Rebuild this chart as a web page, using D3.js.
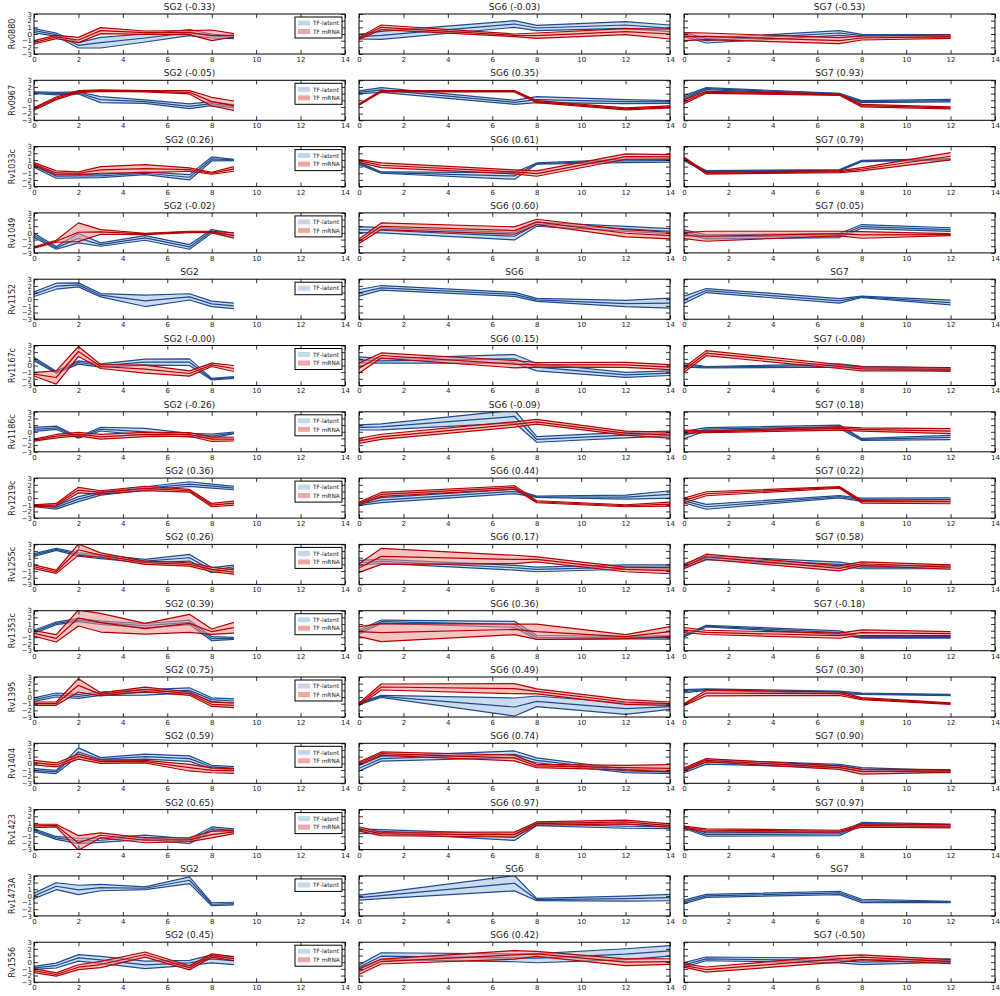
<!DOCTYPE html>
<html lang="en">
<head>
<meta charset="UTF-8" />
<title>TF-latent vs TF mRNA</title>
<script src="https://d3js.org/d3.v7.min.js"></script>
<style>
  body { margin: 0; background: #fff; font-family: "DejaVu Sans", sans-serif; }
  text { font-family: "DejaVu Sans", sans-serif; fill: #222; }
</style>
</head>
<body>
<div id="chart"></div>
<script>
// genes (rows) and time points for each condition (columns)
const genes = ["Rv0880", "Rv0967", "Rv1033c", "Rv1049", "Rv1152", "Rv1167c", "Rv1186c", "Rv1219c",
  "Rv1255c", "Rv1353c", "Rv1395", "Rv1404", "Rv1423", "Rv1473A", "Rv1556"];
const timesSG2 = [0, 1, 2, 3, 5, 7, 8, 9];
const timesSG6 = [0, 1, 7, 8, 12, 14];
const timesSG7 = [0, 1, 7, 8, 12];

// correlation shown in the title, null = no mRNA profile
const corrSG2 = ["-0.33", "-0.05", "0.26", "-0.02", null, "-0.00", "-0.26", "0.36", "0.26", "0.39", "0.75", "0.59", "0.65", null, "0.45"];
const corrSG6 = ["-0.03", "0.35", "0.61", "0.60", null, "0.15", "-0.09", "0.44", "0.17", "0.36", "0.49", "0.74", "0.97", null, "0.42"];
const corrSG7 = ["-0.53", "0.93", "0.79", "0.05", null, "-0.08", "0.18", "0.22", "0.58", "-0.18", "0.30", "0.90", "0.97", null, "-0.50"];

// SG2: mean and std of TF-latent and TF mRNA
const latMeanSG2 = [
  [0.5, -0.1, -1.7, -1.3, -0.6, 0.2, -0.3, -0.5],
  [1.15, 1.0, 1.1, 0.1, -0.2, -0.9, -0.5, -0.9],
  [0.1, -1.45, -1.4, -1.4, -1.0, -1.6, 1.15, 1.0],
  [-0.35, -2.25, -0.8, -1.75, -0.75, -2.1, 0.25, -0.35],
  [0.75, 1.95, 2.15, 0.6, -0.25, 0.35, -0.7, -1.0],
  [0.95, -1.0, 0.45, 0.0, 0.5, 0.5, -2.05, -1.8],
  [0.35, 0.6, -0.85, 0.4, 0.0, -0.5, -0.65, -0.15],
  [-1.15, -1.4, -0.15, 0.7, 1.45, 2.1, 1.8, 1.5],
  [1.4, 2.25, 1.5, 1.15, 0.5, 1.0, -0.85, -0.35],
  [-0.15, 1.1, 1.6, 1.2, 0.75, 1.25, -1.2, -1.15],
  [-0.4, 0.3, 0.1, 0.5, 0.7, 1.0, -0.4, -0.6],
  [-1.05, -1.3, 1.7, 0.6, 1.0, 0.7, -0.55, -0.75],
  [-0.1, -1.25, -1.7, -1.6, -1.15, -1.75, 0.1, -0.1],
  [0.0, 1.45, 0.9, 1.25, 1.15, 2.35, -1.25, -1.15],
  [-0.85, -0.5, 0.65, 0.35, -0.4, -0.1, 0.5, 0.2]
];
const latSdSG2 = [
  [0.3, 0.25, 0.4, 0.8, 0.6, 0.45, 0.3, 0.2],
  [0.1, 0.2, 0.15, 0.45, 0.25, 0.35, 0.3, 0.2],
  [0.2, 0.3, 0.3, 0.25, 0.2, 0.4, 0.3, 0.1],
  [0.3, 0.2, 0.7, 0.25, 0.35, 0.35, 0.25, 0.3],
  [0.35, 0.45, 0.3, 0.25, 0.85, 0.47, 0.42, 0.4],
  [0.25, 0.15, 0.25, 0.25, 0.45, 0.5, 0.12, 0.12],
  [0.3, 0.25, 0.1, 0.28, 0.5, 0.25, 0.3, 0.12],
  [0.12, 0.25, 0.37, 0.25, 0.25, 0.35, 0.3, 0.25],
  [0.22, 0.15, 0.25, 0.28, 0.25, 0.5, 0.38, 0.25],
  [0.25, 0.2, 0.25, 0.25, 0.33, 0.33, 0.3, 0.15],
  [0.27, 0.3, 0.3, 0.25, 0.42, 0.38, 0.28, 0.32],
  [0.25, 0.25, 0.62, 0.25, 0.37, 0.42, 0.25, 0.25],
  [0.22, 0.22, 0.4, 0.32, 0.32, 0.37, 0.3, 0.22],
  [0.42, 0.52, 0.7, 0.48, 0.2, 0.5, 0.22, 0.2],
  [0.22, 0.37, 0.48, 0.52, 0.55, 0.37, 0.6, 0.55]
];
const mrnaMeanSG2 = [
  [-1.25, -0.45, -0.9, 0.5, 0.2, 0.2, -0.2, -0.2],
  [-1.3, 0.3, 1.3, 1.45, 1.35, 1.2, -0.2, -0.8],
  [0.4, -0.95, -1.0, -0.5, -0.3, -0.45, -1.0, -0.35],
  [-2.2, -1.25, 0.1, 0.15, -0.15, 0.15, 0.15, -0.4],
  null,
  [-1.3, -1.8, 2.1, -0.15, -0.55, -1.2, 0.1, -0.45],
  [-1.25, -0.65, -0.35, -0.75, -0.4, -0.4, -1.1, -1.1],
  [-1.15, -1.0, 1.2, 0.85, 1.45, 1.1, -1.05, -0.75],
  [-0.35, -1.1, 2.2, 1.4, 0.25, 0.0, -0.75, -1.15],
  [-0.4, -1.15, 1.9, 1.2, 0.3, 1.1, -0.15, 0.45],
  [-1.0, -1.0, 1.75, 0.4, 1.15, 0.5, -1.1, -1.25],
  [0.1, -0.25, 1.0, 0.25, 0.25, -0.65, -1.05, -1.15],
  [0.55, 0.6, -2.0, -0.85, -1.6, -1.5, -0.75, -0.35],
  null,
  [-1.25, -1.85, -0.75, -0.35, 1.15, -0.85, 1.0, 0.55]
];
const mrnaSdSG2 = [
  [0.25, 0.25, 0.4, 0.45, 0.25, 0.3, 0.8, 0.25],
  [0.2, 0.2, 0.15, 0.1, 0.1, 0.25, 0.65, 0.7],
  [0.2, 0.3, 0.2, 0.5, 0.6, 0.25, 0.15, 0.35],
  [0.1, 0.15, 1.4, 0.35, 0.1, 0.1, 0.1, 0.4],
  null,
  [0.27, 1.0, 0.75, 0.3, 0.6, 0.4, 0.25, 0.45],
  [0.15, 0.25, 0.25, 0.35, 0.33, 0.27, 0.35, 0.28],
  [0.12, 0.2, 0.42, 0.25, 0.33, 0.2, 0.25, 0.3],
  [0.28, 0.25, 0.85, 0.33, 0.25, 0.25, 0.35, 0.32],
  [0.4, 0.55, 1.2, 1.4, 0.8, 1.35, 0.4, 0.8],
  [0.25, 0.25, 1.0, 0.22, 0.33, 0.25, 0.32, 0.35],
  [0.35, 0.3, 0.37, 0.25, 0.2, 0.5, 0.37, 0.35],
  [0.25, 0.2, 1.1, 0.37, 0.37, 0.3, 0.5, 0.25],
  null,
  [0.3, 0.25, 0.37, 0.47, 0.38, 0.3, 0.25, 0.3]
];

// SG6
const latMeanSG6 = [
  [-0.4, -0.2, 1.5, 0.9, 1.35, 0.85],
  [1.2, 1.55, -0.3, 0.1, -0.2, -0.25],
  [0.5, -0.9, -1.4, 0.45, 0.85, 0.9],
  [0.5, 0.4, -0.5, 1.3, 0.6, 0.25],
  [0.95, 1.7, 0.72, -0.1, -0.65, -0.6],
  [0.85, 0.7, 1.0, -0.25, -1.4, -1.15],
  [0.65, 0.75, 2.3, -1.15, -0.5, -0.25],
  [-0.9, -0.3, 1.0, 0.2, 0.15, 0.55],
  [0.25, 0.45, -0.5, -0.75, -0.4, -0.4],
  [-0.2, 1.35, 0.95, -1.0, -1.05, -1.0],
  [-1.0, 0.1, -1.5, -0.65, -1.75, -1.45],
  [-0.75, 0.7, 1.35, 0.45, -1.15, -1.3],
  [-0.25, -0.25, -1.15, 0.85, 0.5, 0.4],
  [-0.25, 0.05, 1.9, -0.55, -0.4, -0.25],
  [-0.75, 0.9, 0.65, 0.6, 1.2, 1.7]
];
const latSdSG6 = [
  [0.35, 0.6, 0.5, 0.4, 0.5, 0.5],
  [0.2, 0.35, 0.3, 0.45, 0.3, 0.2],
  [0.2, 0.1, 0.5, 0.1, 0.25, 0.25],
  [0.45, 0.4, 0.55, 0.3, 0.38, 0.38],
  [0.5, 0.35, 0.3, 0.22, 0.47, 0.75],
  [0.45, 0.33, 0.65, 0.55, 0.37, 0.35],
  [0.38, 0.45, 0.95, 0.42, 0.4, 0.37],
  [0.2, 0.37, 0.33, 0.1, 0.3, 0.55],
  [0.35, 0.3, 0.35, 0.35, 0.33, 0.33],
  [0.3, 0.25, 0.45, 0.32, 0.18, 0.25],
  [0.15, 0.15, 1.35, 0.8, 0.85, 0.4],
  [0.42, 0.38, 0.5, 0.37, 0.25, 0.25],
  [0.37, 0.25, 0.47, 0.25, 0.3, 0.25],
  [0.37, 0.45, 1.15, 0.17, 0.37, 0.48],
  [0.35, 0.52, 0.58, 0.68, 0.82, 0.8]
];
const mrnaMeanSG6 = [
  [-0.65, 1.0, -0.2, -0.25, 0.35, 0.0],
  [-0.65, 1.35, 1.35, -0.2, -1.3, -1.0],
  [0.85, 0.2, -0.8, -1.05, 1.5, 1.45],
  [-1.25, 1.0, 0.35, 1.65, -0.05, -0.4],
  null,
  [-0.4, 1.5, 0.2, 0.1, 0.1, -0.25],
  [-1.35, -0.75, 1.1, 1.5, -0.2, -0.5],
  [-0.8, 0.55, 1.6, -0.55, -1.15, -0.9],
  [-0.55, 1.2, 0.75, 0.75, -0.75, -0.95],
  [-0.15, -0.3, 0.2, -0.15, -0.9, -0.15],
  [-1.1, 1.5, 1.25, 0.85, -0.75, -1.0],
  [0.0, 1.45, 0.8, -0.4, -0.65, -0.75],
  [0.1, -0.65, -0.75, 0.9, 1.15, 0.6],
  null,
  [-1.4, 0.1, 1.1, 1.25, 0.0, 0.1]
];
const mrnaSdSG6 = [
  [0.15, 0.35, 0.2, 0.4, 0.45, 0.75],
  [0.1, 0.1, 0.1, 0.15, 0.15, 0.15],
  [0.2, 0.35, 0.3, 0.4, 0.4, 0.35],
  [0.35, 0.5, 0.55, 0.4, 0.55, 0.5],
  null,
  [0.75, 0.38, 0.55, 0.35, 0.38, 0.37],
  [0.38, 0.38, 0.4, 0.35, 0.3, 0.45],
  [0.2, 0.3, 0.25, 0.15, 0.15, 0.3],
  [0.65, 1.2, 0.62, 0.38, 0.35, 0.45],
  [0.75, 1.35, 0.8, 1.15, 0.3, 0.75],
  [0.2, 0.45, 0.75, 0.37, 0.35, 0.25],
  [0.22, 0.25, 0.43, 0.25, 0.35, 0.55],
  [0.33, 0.25, 0.37, 0.25, 0.28, 0.25],
  null,
  [0.42, 0.37, 0.65, 0.38, 0.5, 0.42]
];

// SG7
const latMeanSG7 = [
  [-0.1, -1.0, 0.15, -0.25, -0.3],
  [0.45, 1.75, 0.95, -0.2, -0.05],
  [1.0, -0.7, -0.55, 0.85, 1.1],
  [0.15, -0.6, -0.4, 0.95, 0.5],
  [-0.1, 1.3, -0.25, 0.35, -0.5],
  [0.05, -0.25, 0.0, -0.3, -0.65],
  [-0.5, 0.4, 0.75, -1.15, -0.85],
  [-0.4, -1.3, 0.2, -0.25, -0.25],
  [-0.25, 1.0, 0.0, -0.4, -0.4],
  [-0.8, 0.7, -0.3, -1.0, -1.0],
  [0.85, 1.1, 0.7, 0.5, 0.3],
  [-1.15, 0.2, -0.4, -0.9, -1.25],
  [0.35, -0.75, -0.65, 0.85, 0.6],
  [-0.9, 0.0, 0.45, -0.75, -0.9],
  [-0.4, 0.5, 0.25, 0.0, 0.25]
];
const latSdSG7 = [
  [0.3, 0.35, 0.35, 0.2, 0.2],
  [0.25, 0.15, 0.1, 0.15, 0.2],
  [0.15, 0.1, 0.1, 0.1, 0.1],
  [0.3, 0.3, 0.3, 0.3, 0.27],
  [0.55, 0.3, 0.35, 0.1, 0.35],
  [0.3, 0.1, 0.25, 0.18, 0.25],
  [0.55, 0.22, 0.25, 0.15, 0.32],
  [0.3, 0.37, 0.18, 0.25, 0.28],
  [0.3, 0.28, 0.35, 0.25, 0.25],
  [0.15, 0.12, 0.28, 0.12, 0.12],
  [0.25, 0.12, 0.18, 0.1, 0.1],
  [0.25, 0.33, 0.25, 0.25, 0.15],
  [0.18, 0.25, 0.25, 0.22, 0.22],
  [0.25, 0.22, 0.25, 0.25, 0.1],
  [0.32, 0.28, 0.35, 0.35, 0.25]
];
const mrnaMeanSG7 = [
  [-0.4, -0.35, -1.0, -0.6, -0.4],
  [-0.2, 1.2, 0.85, -0.8, -1.15],
  [1.3, -1.0, -0.75, -0.4, 1.55],
  [-0.4, -0.5, -0.1, -0.3, -0.25],
  null,
  [-0.65, 1.85, -0.15, -0.5, -0.55],
  [0.0, 0.0, 0.5, 0.35, 0.1],
  [-0.35, 0.65, 1.6, -0.55, -0.55],
  [-0.35, 1.15, -0.6, 0.1, -0.4],
  [0.1, -0.25, -0.75, -0.3, -0.45],
  [-1.15, 0.6, 0.5, -0.25, -1.0],
  [-0.9, 0.45, -0.65, -1.25, -1.15],
  [0.35, -0.1, -0.25, 0.6, 0.5],
  null,
  [-0.5, -1.1, 0.5, 0.75, 0.1]
];
const mrnaSdSG7 = [
  [0.6, 0.5, 0.45, 0.3, 0.25],
  [0.3, 0.15, 0.1, 0.2, 0.15],
  [0.15, 0.12, 0.15, 0.25, 0.55],
  [0.45, 0.75, 0.35, 0.5, 0.15],
  null,
  [0.35, 0.38, 0.3, 0.3, 0.25],
  [0.25, 0.12, 0.25, 0.25, 0.37],
  [0.35, 0.3, 0.12, 0.2, 0.3],
  [0.3, 0.38, 0.38, 0.28, 0.33],
  [0.38, 0.32, 0.38, 0.42, 0.3],
  [0.15, 0.42, 0.28, 0.15, 0.12],
  [0.2, 0.25, 0.25, 0.37, 0.2],
  [0.18, 0.22, 0.15, 0.25, 0.25],
  null,
  [0.25, 0.38, 0.5, 0.35, 0.3]
];

const conds = [
  { name: "SG2", times: timesSG2, corr: corrSG2, latMean: latMeanSG2, latSd: latSdSG2, mrnaMean: mrnaMeanSG2, mrnaSd: mrnaSdSG2 },
  { name: "SG6", times: timesSG6, corr: corrSG6, latMean: latMeanSG6, latSd: latSdSG6, mrnaMean: mrnaMeanSG6, mrnaSd: mrnaSdSG6 },
  { name: "SG7", times: timesSG7, corr: corrSG7, latMean: latMeanSG7, latSd: latSdSG7, mrnaMean: mrnaMeanSG7, mrnaSd: mrnaSdSG7 }
];

const blue = { line: "#1f4b8e", fill: "#c3d6ec", fillOpacity: 0.85 };
const red = { line: "#b50000", fill: "#ee8f8f", fillOpacity: 0.55 };

const colLeft = [34, 359, 684];
const panelW = 311, panelH = 40;
const rowTop = i => 14 + i * 66.3;

const svg = d3.select("#chart").append("svg")
  .attr("width", 1000)
  .attr("height", 996);

const x = d3.scaleLinear().domain([0, 14]).range([0, panelW]);
const y = d3.scaleLinear().domain([-3, 3]).range([panelH, 0]);

function drawSeries(g, times, mean, sd, style, clipId) {
  const pts = times.map((t, i) => ({ t: t, m: mean[i], s: sd[i] }));
  const layer = g.append("g").attr("clip-path", `url(#${clipId})`);
  layer.append("path")
    .attr("d", d3.area().x(d => x(d.t)).y0(d => y(d.m - d.s)).y1(d => y(d.m + d.s))(pts))
    .attr("fill", style.fill)
    .attr("fill-opacity", style.fillOpacity)
    .attr("stroke", "none");
  [-1, 0, 1].forEach(k => {
    layer.append("path")
      .attr("d", d3.line().x(d => x(d.t)).y(d => y(d.m + k * d.s))(pts))
      .attr("fill", "none")
      .attr("stroke", style.line)
      .attr("stroke-width", 1.2)
      .attr("stroke-linejoin", "round");
  });
}

function styleAxis(sel) {
  sel.select(".domain").remove();
  sel.selectAll(".tick line").attr("stroke", "#000").attr("stroke-width", 0.8);
  sel.selectAll(".tick text").attr("font-size", 7).attr("font-family", "DejaVu Sans").attr("fill", "#222");
  sel.attr("font-family", null).attr("font-size", null);
}

const fmt = d3.format("d");

genes.forEach((gene, r) => {
  conds.forEach((cond, c) => {
    const g = svg.append("g").attr("transform", `translate(${colLeft[c]},${rowTop(r)})`);
    const clipId = `clip-${r}-${c}`;
    g.append("clipPath").attr("id", clipId)
      .append("rect").attr("width", panelW).attr("height", panelH);

    drawSeries(g, cond.times, cond.latMean[r], cond.latSd[r], blue, clipId);
    const hasMrna = cond.mrnaMean[r] !== null;
    if (hasMrna) {
      drawSeries(g, cond.times, cond.mrnaMean[r], cond.mrnaSd[r], red, clipId);
    }

    // axes with inward ticks on all four sides
    const xt = d3.range(0, 15, 2), yt = d3.range(-3, 4);
    g.append("g").attr("transform", `translate(0,${panelH})`)
      .call(d3.axisBottom(x).tickValues(xt).tickSize(-4).tickPadding(3).tickFormat(fmt))
      .call(styleAxis);
    g.append("g")
      .call(d3.axisTop(x).tickValues(xt).tickSize(-4).tickFormat(""))
      .call(styleAxis);
    const left = d3.axisLeft(y).tickValues(yt).tickSize(-4).tickPadding(2).tickFormat(c > 0 ? "" : fmt);
    g.append("g").call(left).call(styleAxis);
    g.append("g").attr("transform", `translate(${panelW},0)`)
      .call(d3.axisRight(y).tickValues(yt).tickSize(-4).tickFormat(""))
      .call(styleAxis);

    g.append("rect")
      .attr("width", panelW).attr("height", panelH)
      .attr("fill", "none").attr("stroke", "#000").attr("stroke-width", 1);

    g.append("text")
      .attr("x", panelW / 2).attr("y", -4)
      .attr("text-anchor", "middle")
      .attr("font-size", 9)
      .text(cond.corr[r] === null ? cond.name : `${cond.name} (${cond.corr[r]})`);

    if (c === 0) {
      // legend box in the upper right of the SG2 panel
      const entries = [{ label: "TF-latent", style: blue }];
      if (hasMrna) entries.push({ label: "TF mRNA", style: red });
      const lg = g.append("g").attr("transform", `translate(${panelW - 50},3)`);
      lg.append("rect")
        .attr("width", 47).attr("height", 4 + entries.length * 8.5)
        .attr("fill", "#fff").attr("stroke", "#000").attr("stroke-width", 1);
      entries.forEach((e, i) => {
        lg.append("rect")
          .attr("x", 3).attr("y", 3.5 + i * 8.5)
          .attr("width", 12).attr("height", 5)
          .attr("fill", e.style.fill).attr("fill-opacity", e.style === red ? 0.8 : 1);
        lg.append("text")
          .attr("x", 18).attr("y", 8.3 + i * 8.5)
          .attr("font-size", 5.8)
          .text(e.label);
      });

      svg.append("text")
        .attr("transform", `translate(15,${rowTop(r) + panelH / 2}) rotate(-90)`)
        .attr("text-anchor", "middle")
        .attr("font-size", 8)
        .text(gene);
    }
  });
});
</script>
</body>
</html>
